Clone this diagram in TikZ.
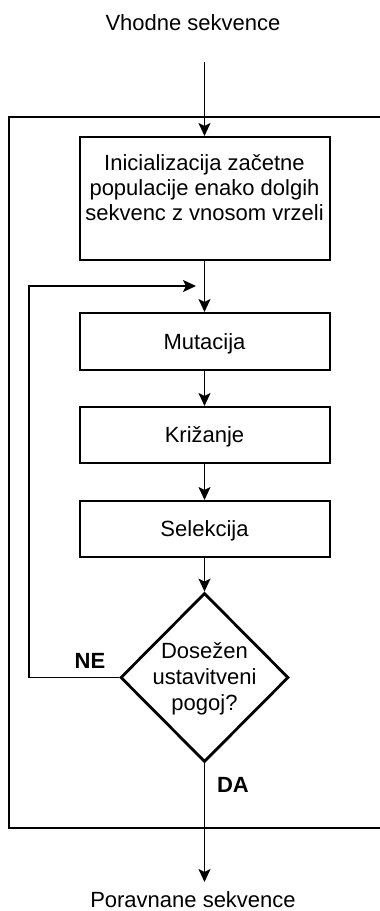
\documentclass[tikz,border=0pt]{standalone}
\usepackage{fontspec}
\setmainfont{Liberation Sans}
\usetikzlibrary{shapes.geometric,arrows.meta}
\begin{document}
\begin{tikzpicture}[x=1pt,y=-1pt,
  every node/.style={font=\fontsize{22}{25}\selectfont},
  stepbox/.style={draw,line width=2pt,minimum width=250pt,inner sep=0pt,
    text height=15.8pt,text depth=0pt},
  decision/.style={draw,diamond,line width=2.8pt,minimum width=168pt,
    minimum height=169pt,inner sep=0pt},
  caption/.style={inner sep=0pt,align=center},
  branch/.style={inner sep=0pt,font=\fontsize{22}{25}\selectfont\bfseries},
  flow/.style={line width=1.8pt,-{Stealth[length=13pt,width=12pt,inset=3pt]}},
  frame/.style={line width=1.6pt}]

\fill[white] (0,0) rectangle (380,911);
\useasboundingbox (0,0) rectangle (380,911);

% enclosing frame (open to the right)
\draw[frame] (380,117) -- (9,117) -- (9,828) -- (380,828);

% input / output captions
\node[caption] (input) at (193,22.5) {Vhodne sekvence};
\coordinate (inStart) at (204.5,62);
\node[caption] (output) at (193,900) {Poravnane sekvence};
\coordinate (outEnd) at (204.5,882);

% process steps
\node[stepbox,minimum height=123pt] (init) at (204.5,198.5) {};
\node[caption,anchor=north] (initText) at (204.5,154)
  {Inicializacija začetne\\populacije enako dolgih\\sekvenc z vnosom vrzeli};
\node[stepbox,minimum height=57pt] (mut) at (204.5,341.5) {Mutacija};
\node[stepbox,minimum height=56pt] (cross) at (204.5,435) {Križanje};
\node[stepbox,minimum height=56pt] (sel) at (204.5,529) {Selekcija};

% stopping condition
\node[decision] (stop) at (204.5,677.5) {};
\node[caption,anchor=north,font=\fontsize{22}{26}\selectfont] (stopText) at (204.5,642)
  {Dosežen\\ustavitveni\\pogoj?};

% loop back
\coordinate (loopCorner) at (29,677.5);
\coordinate (loopTop) at (29,286);
\coordinate (loopEnd) at (196,286);

% connectors
\draw[flow] (inStart) -- (init.north);
\draw[flow] (init) -- (mut);
\draw[flow] (mut) -- (cross);
\draw[flow] (cross) -- (sel);
\draw[flow] (sel) -- (stop);
\draw[flow] (stop.west) -- (loopCorner) -- (loopTop) -- (loopEnd);
\draw[flow] (stop.south) -- (outEnd);

% branch labels
\node[branch] (no) at (90,660.5) {NE};
\node[branch] (yes) at (233,785) {DA};
\end{tikzpicture}
\end{document}
